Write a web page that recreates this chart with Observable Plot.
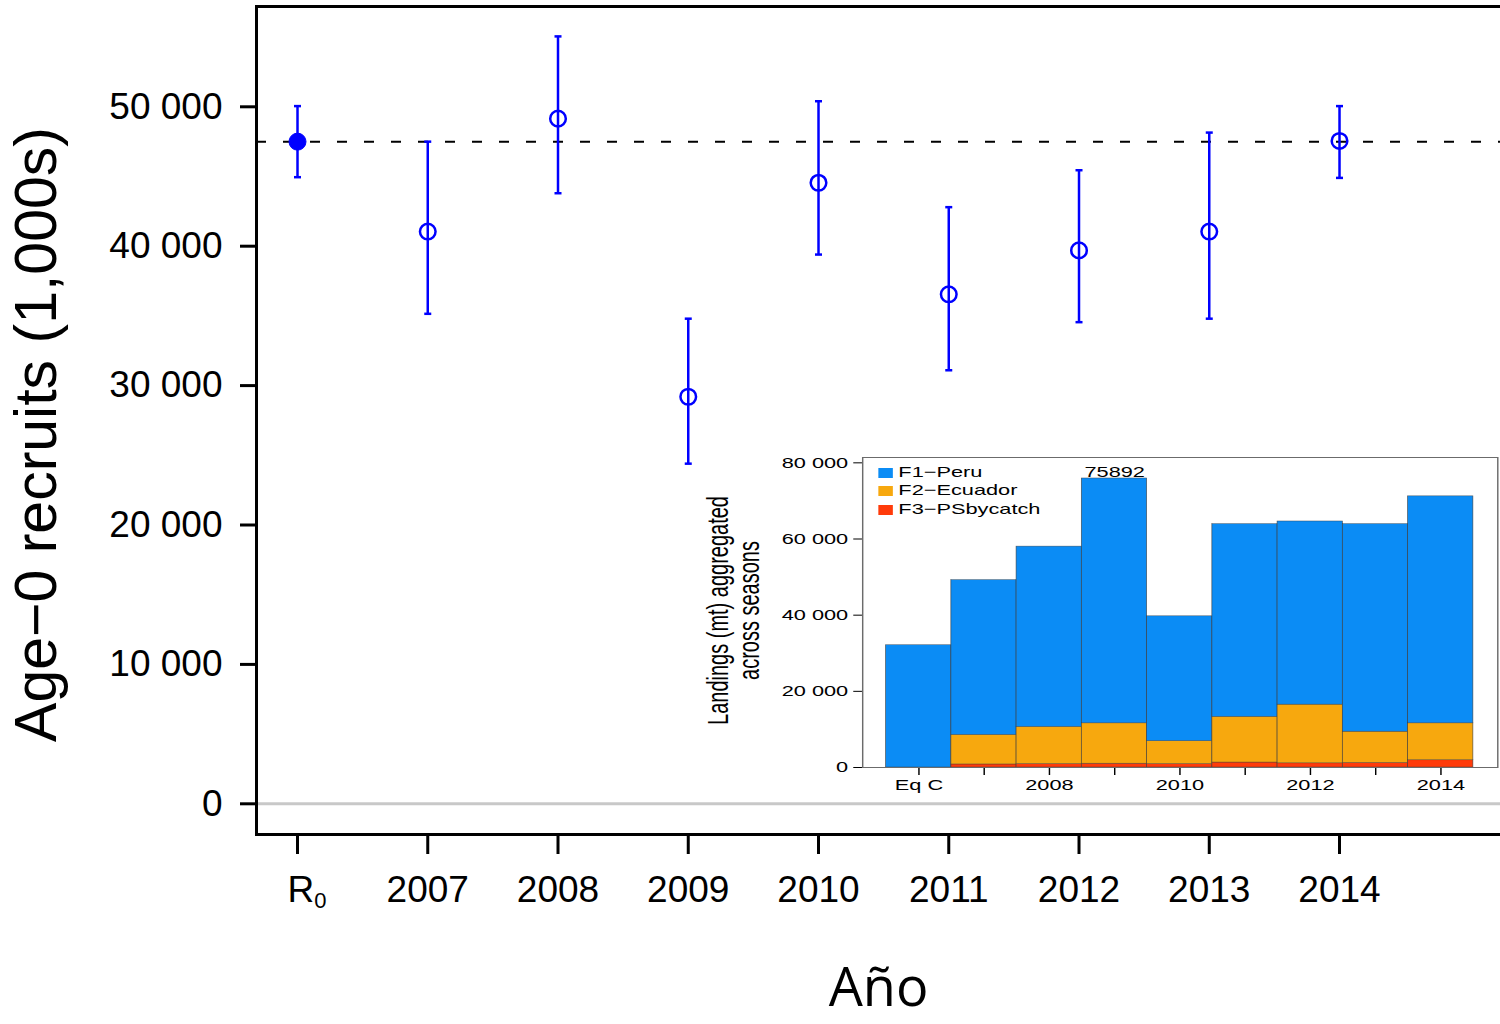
<!DOCTYPE html>
<html><head><meta charset="utf-8">
<script src="https://cdn.jsdelivr.net/npm/d3@7"></script>
<script src="https://cdn.jsdelivr.net/npm/@observablehq/plot@0.6"></script>
<style>
body{margin:0;background:#fff;}
#wrap{position:relative;width:1500px;height:1024px;overflow:hidden;font-family:"Liberation Sans",Arial,sans-serif;}
#main{position:absolute;left:0;top:0;}
#inset{position:absolute;left:700px;top:440px;width:552px;height:360px;transform:scaleX(1.45);transform-origin:0 0;}
.lg{position:absolute;left:122.8px;font-size:15px;line-height:15px;color:#000;white-space:nowrap;}
.lg span{display:inline-block;width:10px;height:10px;margin-right:4px;vertical-align:-1px;}
</style></head><body><div id="wrap"><div id="main"></div><div id="inset"></div></div>
<script>
// ---- main chart data ----
const categories = ["R0","2007","2008","2009","2010","2011","2012","2013","2014"];
const recruits = [47500, 41050, 49150, 29200, 44550, 36550, 39700, 41050, 47550];
const recruitsLow = [44950, 35150, 43800, 24400, 39400, 31100, 34550, 34800, 44900];
const recruitsHigh = [50050, 47500, 55050, 34800, 50400, 42800, 45450, 48150, 50050];
const yTicks = [0, 10000, 20000, 30000, 40000, 50000];

// ---- inset data ----
const insetCategories = ["Eq C","2007","2008","2009","2010","2011","2012","2013","2014"];
const peru = [32100, 40650, 47350, 64292, 32800, 50600, 48100, 54500, 59600];
const ecuador = [0, 7750, 9750, 10600, 6000, 12000, 15400, 8200, 9700];
const psBycatch = [0, 800, 900, 1000, 900, 1300, 1100, 1200, 1900];
const seriesNames = ["F1\u2212Peru","F2\u2212Ecuador","F3\u2212PSbycatch"];
const seriesColors = ["#0b8cf5","#f7a80e","#ff3b0a"];
const insetTickLabels = ["Eq C","2008","2010","2012","2014"];
const insetYTicks = [0, 20000, 40000, 60000, 80000];

const font = '"Liberation Sans", Arial, sans-serif';
const fmt = d => d3.format(",")(d).replace(/,/g, " ");

const rows = categories.map((c, i) => ({i, label: c, v: recruits[i], lo: recruitsLow[i], hi: recruitsHigh[i]}));
const capSymbol = {draw(ctx, size) { const w = Math.sqrt(size / Math.PI); ctx.moveTo(-w, 0); ctx.lineTo(w, 0); }};

const main = Plot.plot({
  width: 1500, height: 1024,
  marginLeft: 256, marginRight: 0, marginTop: 6, marginBottom: 190,
  style: {fontFamily: font, fontSize: "37px", color: "#000", background: "transparent"},
  x: {type: "linear", domain: [-0.3148, 9.236]},
  y: {domain: [-2202, 57195]},
  marks: [
    Plot.ruleY([0], {stroke: "#c8c8c8", strokeWidth: 3}),
    Plot.ruleY([recruits[0]], {stroke: "#000", strokeWidth: 2, strokeDasharray: "10,17"}),
    Plot.ruleX(rows, {x: "i", y1: "lo", y2: "hi", stroke: "blue", strokeWidth: 2.5}),
    Plot.dot(rows, {x: "i", y: "lo", symbol: capSymbol, r: 3.5, stroke: "blue", strokeWidth: 2.5}),
    Plot.dot(rows, {x: "i", y: "hi", symbol: capSymbol, r: 3.5, stroke: "blue", strokeWidth: 2.5}),
    Plot.dot(rows.filter(d => d.i > 0), {x: "i", y: "v", r: 7.8, fill: "none", stroke: "blue", strokeWidth: 2.5}),
    Plot.dot(rows.filter(d => d.i === 0), {x: "i", y: "v", r: 8.5, fill: "blue", stroke: "blue", strokeWidth: 1}),
    Plot.axisY({ticks: yTicks, tickFormat: fmt, tickSize: 16, tickPadding: 18, strokeWidth: 3, label: null}),
    Plot.axisX({ticks: d3.range(categories.length), tickFormat: i => categories[i], tickSize: 20, tickPadding: 21, strokeWidth: 3, label: null}),
    Plot.frame({anchor: "left", strokeWidth: 3}),
    Plot.frame({anchor: "top", strokeWidth: 3}),
    Plot.frame({anchor: "bottom", strokeWidth: 3}),
    Plot.text(["Age\u22120 recruits (1,000s)"], {text: d => d, frameAnchor: "left", textAnchor: "middle", rotate: -90, dx: -219, dy: 14, fontSize: 59}),
    Plot.text(["Año"], {text: d => d, frameAnchor: "bottom", dy: 171, fontSize: 54, fontFamily: '"Open Sans", sans-serif'})
  ]
});
document.getElementById("main").appendChild(main);
// subscript for R0
main.querySelectorAll("text").forEach(t => {
  if (t.textContent === "R0") {
    t.textContent = "R";
    t.setAttribute("text-anchor", "start");
    t.setAttribute("dx", "-10");
    const ts = document.createElementNS("http://www.w3.org/2000/svg", "tspan");
    ts.setAttribute("dy", "0.3em");
    ts.setAttribute("font-size", "22px");
    ts.textContent = "0";
    t.appendChild(ts);
  }
});

// ---- inset ----
const insetRows = [];
insetCategories.forEach((c, i) => {
  insetRows.push({cat: c, series: seriesNames[2], value: psBycatch[i]});
  insetRows.push({cat: c, series: seriesNames[1], value: ecuador[i]});
  insetRows.push({cat: c, series: seriesNames[0], value: peru[i]});
});
const totals = insetCategories.map((c, i) => ({cat: c, total: peru[i] + ecuador[i] + psBycatch[i]}));
const maxTotal = d3.max(totals, d => d.total);

const inset = Plot.plot({
  width: 552, height: 360,
  marginLeft: 111.7, marginRight: 2.3, marginTop: 17, marginBottom: 33,
  style: {fontFamily: font, fontSize: "15px", color: "#000", background: "transparent", overflow: "visible"},
  x: {domain: insetCategories, paddingInner: 0, paddingOuter: 0.36},
  y: {domain: [0, 81400]},
  color: {domain: seriesNames, range: seriesColors},
  marks: [
    Plot.barY(insetRows.filter(d => d.value > 0), {x: "cat", y: "value", fill: "series", stroke: "#3a3a3a", strokeWidth: 0.5, strokeOpacity: 0.8}),
    Plot.text(totals.filter(d => d.total === maxTotal), {x: "cat", y: "total", text: d => String(Math.round(d.total)), lineAnchor: "bottom", dy: -1}),
    Plot.axisY({ticks: insetYTicks, tickFormat: fmt, tickSize: 6, tickPadding: 4, label: null}),
    Plot.axisX({tickFormat: c => insetTickLabels.includes(c) ? c : "", tickSize: 8, tickPadding: 4, label: null}),
    Plot.frame({stroke: "#6b6b6b", strokeWidth: 1}),
    Plot.text(["Landings (mt) aggregated\nacross seasons"], {text: d => d, frameAnchor: "left", textAnchor: "middle", rotate: -90, dx: -89, dy: -2, fontSize: 20, lineHeight: 1.05})
  ]
});
const insetDiv = document.getElementById("inset");
insetDiv.appendChild(inset);
seriesNames.forEach((s, i) => {
  const d = document.createElement("div");
  d.className = "lg";
  d.style.top = (23.5 + i * 18.5) + "px";
  d.innerHTML = `<span style="background:${seriesColors[i]}"></span>${s}`;
  insetDiv.appendChild(d);
});
</script>
</body></html>
